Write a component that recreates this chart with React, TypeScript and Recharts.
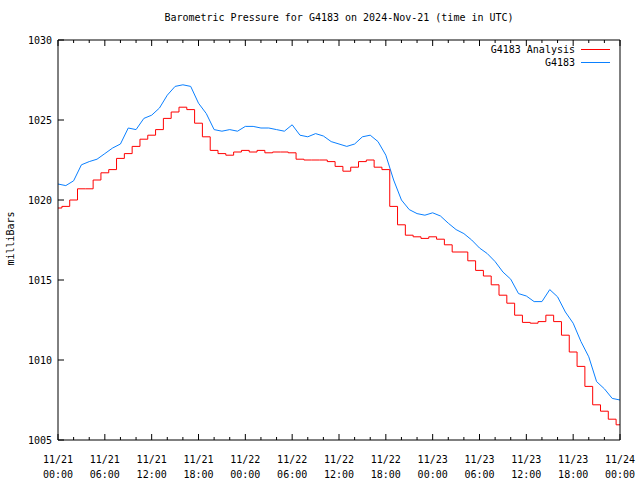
import { LineChart, Line, XAxis, YAxis } from 'recharts';

// hours since 11/21 00:00 UTC
const hours = [
  0, 1, 2, 3, 4, 5, 6, 7, 8, 9, 10, 11, 12, 13, 14, 15, 16, 17, 18, 19, 20, 21, 22, 23,
  24, 25, 26, 27, 28, 29, 30, 31, 32, 33, 34, 35, 36, 37, 38, 39, 40, 41, 42, 43, 44, 45, 46, 47,
  48, 49, 50, 51, 52, 53, 54, 55, 56, 57, 58, 59, 60, 61, 62, 63, 64, 65, 66, 67, 68, 69, 70, 71, 72,
];

const station = [
  1021.0, 1020.9, 1021.2, 1022.2, 1022.4, 1022.55, 1022.9, 1023.25, 1023.5, 1024.5, 1024.4, 1025.1,
  1025.3, 1025.75, 1026.55, 1027.1, 1027.2, 1027.1, 1026.05, 1025.4, 1024.4, 1024.3, 1024.4, 1024.3,
  1024.6, 1024.6, 1024.5, 1024.5, 1024.4, 1024.3, 1024.7, 1024.05, 1023.95, 1024.15, 1024.0, 1023.65,
  1023.5, 1023.35, 1023.5, 1023.95, 1024.05, 1023.65, 1022.8, 1021.25, 1020.0, 1019.4, 1019.15, 1019.05,
  1019.2, 1019.0, 1018.55, 1018.15, 1017.9, 1017.5, 1017.0, 1016.65, 1016.15, 1015.5, 1015.05, 1014.15,
  1014.0, 1013.65, 1013.65, 1014.4, 1013.95, 1013.0, 1012.3, 1011.15, 1010.2, 1008.65, 1008.2, 1007.6,
  1007.5,
];

const analysis = [
  1019.5, 1019.6, 1020.0, 1020.7, 1020.7, 1021.25, 1021.7, 1021.9, 1022.6, 1022.9, 1023.35, 1023.8,
  1024.05, 1024.4, 1025.1, 1025.5, 1025.8, 1025.65, 1024.8, 1023.95, 1023.1, 1022.9, 1022.8, 1023.0,
  1023.1, 1023.0, 1023.1, 1022.95, 1023.0, 1023.0, 1022.95, 1022.55, 1022.5, 1022.5, 1022.5, 1022.4,
  1022.1, 1021.8, 1022.05, 1022.4, 1022.5, 1022.05, 1021.9, 1019.6, 1018.45, 1017.8, 1017.7, 1017.6,
  1017.7, 1017.55, 1017.2, 1016.75, 1016.75, 1016.2, 1015.6, 1015.25, 1014.7, 1014.05, 1013.55, 1012.8,
  1012.35, 1012.3, 1012.4, 1012.8, 1012.4, 1011.55, 1010.5, 1009.6, 1008.35, 1007.2, 1006.8, 1006.3,
  1005.95,
];

const xTicks = [
  0, 2, 4, 6, 8, 10, 12, 14, 16, 18, 20, 22, 24, 26, 28, 30, 32, 34, 36,
  38, 40, 42, 44, 46, 48, 50, 52, 54, 56, 58, 60, 62, 64, 66, 68, 70, 72,
];
const yTicks = [1005, 1010, 1015, 1020, 1025, 1030];

const data = hours.map((h, i) => ({ h, station: station[i], analysis: analysis[i] }));

const FONT = '"DejaVu Sans Mono", monospace';
const BLUE = '#0a80ff';
const RED = '#ff0000';

const pad = (n: number) => (n < 10 ? '0' + n : '' + n);

const BottomTick = (p: any) => {
  const v = p.payload.value;
  const major = v % 6 === 0;
  return (
    <g>
      <line x1={p.x} y1={p.y} x2={p.x} y2={p.y - (major ? 6 : 3)} stroke="#000" />
      {major && (
        <text x={p.x} y={p.y} textAnchor="middle" fontFamily={FONT} fontSize={10} fill="#000">
          <tspan x={p.x} dy={23}>{'11/' + (21 + Math.floor(v / 24))}</tspan>
          <tspan x={p.x} dy={15}>{pad(v % 24) + ':00'}</tspan>
        </text>
      )}
    </g>
  );
};

const TopTick = (p: any) => {
  const major = p.payload.value % 6 === 0;
  return <line x1={p.x} y1={p.y} x2={p.x} y2={p.y + (major ? 6 : 3)} stroke="#000" />;
};

const LeftTick = (p: any) => (
  <g>
    <line x1={p.x} y1={p.y} x2={p.x + 6} y2={p.y} stroke="#000" />
    <text x={p.x - 6} y={p.y + 4} textAnchor="end" fontFamily={FONT} fontSize={10} fill="#000">
      {p.payload.value}
    </text>
  </g>
);

const RightTick = (p: any) => <line x1={p.x} y1={p.y} x2={p.x - 6} y2={p.y} stroke="#000" />;

export default function App() {
  return (
    <div style={{ position: 'absolute', left: 0, top: 0, width: 640, height: 480, background: '#fff', fontFamily: FONT, fontSize: 10 }}>
      <div style={{ position: 'absolute', top: 12, left: 58, width: 562, textAlign: 'center' }}>
        Barometric Pressure for G4183 on 2024-Nov-21 (time in UTC)
      </div>
      <div style={{ position: 'absolute', left: -20, top: 233, width: 60, textAlign: 'center', transform: 'rotate(-90deg)' }}>
        milliBars
      </div>
      <LineChart width={640} height={480} data={data} margin={{ top: 0, right: 0, bottom: 0, left: 0 }}>
        <XAxis xAxisId="b" dataKey="h" type="number" domain={[0, 72]} ticks={xTicks} interval={0}
          height={40} tickSize={0} tickMargin={0} tickLine={false} axisLine={{ stroke: '#000' }} tick={BottomTick} />
        <XAxis xAxisId="t" orientation="top" dataKey="h" type="number" domain={[0, 72]} ticks={xTicks} interval={0}
          height={40} tickSize={0} tickMargin={0} tickLine={false} axisLine={{ stroke: '#000' }} tick={TopTick} />
        <YAxis yAxisId="l" type="number" domain={[1005, 1030]} ticks={yTicks} interval={0}
          width={58} tickSize={0} tickMargin={0} tickLine={false} axisLine={{ stroke: '#000' }} tick={LeftTick} />
        <YAxis yAxisId="r" orientation="right" type="number" domain={[1005, 1030]} ticks={yTicks} interval={0}
          width={20} tickSize={0} tickMargin={0} tickLine={false} axisLine={{ stroke: '#000' }} tick={RightTick} />
        <Line xAxisId="b" yAxisId="l" type="linear" dataKey="station" stroke={BLUE} strokeWidth={1} dot={false} isAnimationActive={false} />
        <Line xAxisId="b" yAxisId="l" type="step" dataKey="analysis" stroke={RED} strokeWidth={1} dot={false} isAnimationActive={false} />
      </LineChart>
      <div style={{ position: 'absolute', top: 43, left: 400, width: 175, textAlign: 'right', lineHeight: '13px' }}>
        <div>G4183 Analysis</div>
        <div>G4183</div>
      </div>
      <div style={{ position: 'absolute', top: 49, left: 581, width: 29, height: 1, background: RED }} />
      <div style={{ position: 'absolute', top: 62, left: 581, width: 29, height: 1, background: BLUE }} />
    </div>
  );
}
